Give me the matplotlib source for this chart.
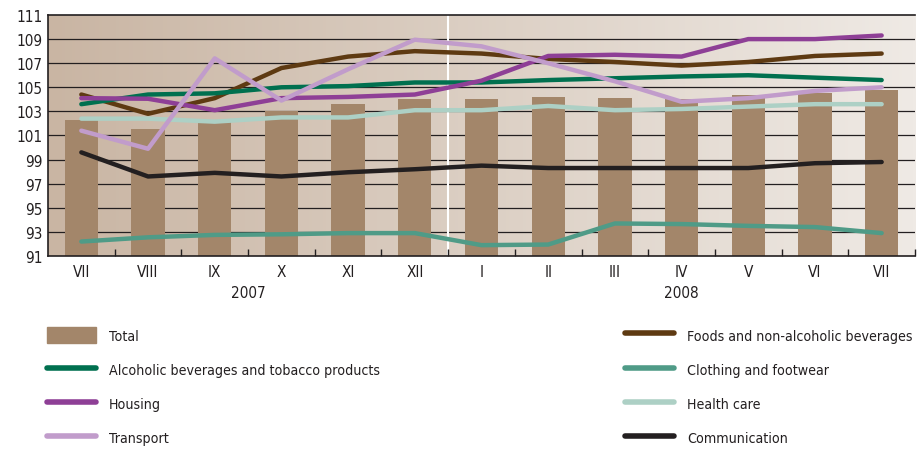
import numpy as np
import matplotlib.pyplot as plt
from matplotlib.lines import Line2D
from matplotlib.patches import Patch

months = ['VII', 'VIII', 'IX', 'X', 'XI', 'XII', 'I', 'II', 'III', 'IV', 'V', 'VI', 'VII']
years = ['2007', '2008']

total = [102.3, 101.55, 102.1, 103.05, 103.6, 104.05, 104.05, 104.2, 104.1, 104.0, 104.35, 104.5, 104.8]
foods = [104.4, 102.8, 104.1, 106.6, 107.55, 108.0, 107.8, 107.35, 107.1, 106.8, 107.1, 107.6, 107.8]
alcohol = [103.6, 104.4, 104.5, 105.0, 105.1, 105.4, 105.4, 105.6, 105.75, 105.9, 106.0, 105.8, 105.6]
clothing = [92.2, 92.55, 92.75, 92.8, 92.9, 92.9, 91.9, 91.95, 93.7, 93.65, 93.5, 93.4, 92.9]
housing = [104.1, 104.05, 103.1, 104.1, 104.2, 104.4, 105.55, 107.6, 107.7, 107.55, 109.0, 109.0, 109.3]
health = [102.4, 102.4, 102.15, 102.5, 102.5, 103.1, 103.1, 103.45, 103.1, 103.2, 103.4, 103.6, 103.6]
transport = [101.4, 99.9, 107.4, 103.9, 106.5, 108.95, 108.4, 107.0, 105.5, 103.8, 104.1, 104.7, 105.0]
communication = [99.6, 97.6, 97.9, 97.6, 97.95, 98.2, 98.5, 98.3, 98.3, 98.3, 98.3, 98.7, 98.8]

bar_color = '#a3866a'
text_color = '#231f20'

plt.rcParams['font.family'] = ['DejaVu Sans']
plt.rcParams['font.stretch'] = 'condensed'

fig = plt.figure(figsize=(9.21, 4.52), dpi=100)
ax = fig.add_axes([48/921, 1-257/452, 867/921, 241/452])

x = np.arange(len(months))
ax.set_xlim(-0.5, len(months)-0.5)
ax.set_ylim(91, 111)

# horizontal background gradient
grad = np.linspace(0, 1, 256).reshape(1, -1)
c0 = np.array([0xc9, 0xb5, 0xa3])/255
c1 = np.array([0xef, 0xea, 0xe5])/255
img = c0[None, None, :]*(1-grad[..., None]) + c1[None, None, :]*grad[..., None]
ax.imshow(img, extent=[-0.5, len(months)-0.5, 91, 111], aspect='auto', zorder=0)

for yv in range(93, 111, 2):
    ax.axhline(yv, color=text_color, lw=0.9, zorder=1)
ax.axvline(5.5, color='white', lw=1.5, zorder=1)

ax.bar(x, np.array(total)-91, bottom=91, width=0.5, color=bar_color, zorder=2)

series = [
    (foods, '#5e3a12'),
    (alcohol, '#00704f'),
    (clothing, '#4f9b87'),
    (housing, '#8e3f96'),
    (health, '#add0c5'),
    (transport, '#c19ccb'),
    (communication, '#231f20'),
]
for vals, col in series:
    ax.plot(x, vals, color=col, lw=3.2, solid_capstyle='round', solid_joinstyle='round', zorder=3)

ax.set_yticks(range(91, 112, 2))
ax.set_xticks(x)
ax.set_xticklabels(months)
ax.set_xticks(np.arange(0.5, len(months), 1), minor=True)
ax.tick_params(axis='x', which='major', length=0, pad=6, labelsize=11, colors=text_color)
ax.tick_params(axis='x', which='minor', length=5, direction='in', color=text_color, width=1)
ax.tick_params(axis='y', length=0, pad=4, labelsize=11, colors=text_color)

for s in ['left', 'bottom', 'top']:
    ax.spines[s].set_color(text_color)
    ax.spines[s].set_linewidth(1.2)
ax.spines['right'].set_visible(False)

ax.text(2.5, -0.15, years[0], transform=ax.get_xaxis_transform(), ha='center', va='center',
        fontsize=11, color=text_color)
ax.text(9.0, -0.15, years[1], transform=ax.get_xaxis_transform(), ha='center', va='center',
        fontsize=11, color=text_color)

left_handles = [
    Patch(color=bar_color),
    Line2D([], [], color='#00704f', lw=4, solid_capstyle='round'),
    Line2D([], [], color='#8e3f96', lw=4, solid_capstyle='round'),
    Line2D([], [], color='#c19ccb', lw=4, solid_capstyle='round'),
]
left_labels = ['Total', 'Alcoholic beverages and tobacco products', 'Housing', 'Transport']
right_handles = [
    Line2D([], [], color='#5e3a12', lw=4, solid_capstyle='round'),
    Line2D([], [], color='#4f9b87', lw=4, solid_capstyle='round'),
    Line2D([], [], color='#add0c5', lw=4, solid_capstyle='round'),
    Line2D([], [], color='#231f20', lw=4, solid_capstyle='round'),
]
right_labels = ['Foods and non-alcoholic beverages', 'Clothing and footwear', 'Health care', 'Communication']

fs = 10.2
leg_kw = dict(frameon=False, fontsize=fs, handlelength=49/14.17, handleheight=20/14.17,
              handletextpad=13/14.17, labelspacing=1.24, labelcolor=text_color,
              borderaxespad=0, borderpad=0)
leg1 = fig.legend(left_handles, left_labels, loc='upper left',
                  bbox_to_anchor=(47/921, 1-328/452), **leg_kw)
leg2 = fig.legend(right_handles, right_labels, loc='upper left',
                  bbox_to_anchor=(625/921, 1-328/452), **leg_kw)

fig.savefig('out.png', dpi=100)
